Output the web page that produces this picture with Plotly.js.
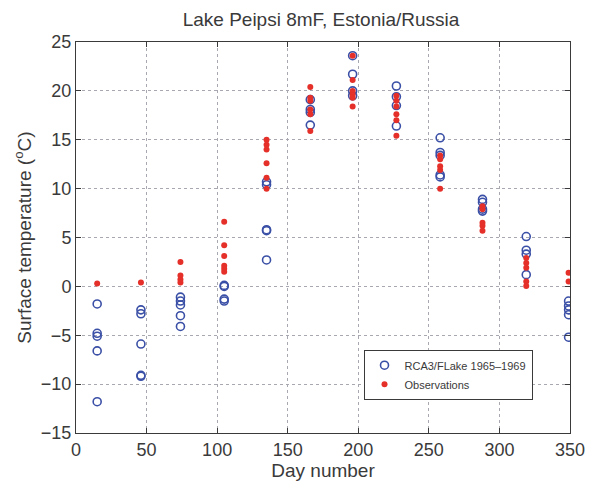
<!DOCTYPE html>
<html>
<head>
<meta charset="utf-8">
<script src="https://cdn.plot.ly/plotly-3.0.1.min.js"></script>
<style>
  html, body { margin: 0; padding: 0; background: #ffffff; }
  #chart { width: 589px; height: 482px; }
</style>
</head>
<body>
<div id="chart"></div>
<script>
// Mid-month day numbers at which the samples are plotted
const days = [15, 46, 74, 105, 135, 166, 196, 227, 258, 288, 319, 349];

// Modelled surface temperature (RCA3/FLake), one list per month (°C)
const modelTemps = [
  [-1.8, -4.8, -5.1, -6.6, -11.8],
  [-2.4, -2.8, -5.9, -9.1, -9.2],
  [-1.1, -1.5, -1.9, -3.0, -4.1],
  [0.1, 0.0, -1.3, -1.5],
  [10.7, 10.4, 5.8, 5.7, 2.7],
  [19.1, 18.1, 17.8, 16.5],
  [23.6, 21.7, 20.0, 19.5],
  [20.5, 19.4, 18.5, 16.4],
  [15.2, 13.7, 13.4, 11.4, 11.2],
  [8.9, 8.6, 7.9, 7.7],
  [5.1, 3.7, 3.3, 1.2],
  [-1.5, -2.0, -2.4, -2.9, -5.2]
];

// Observed surface temperature, one list per month (°C)
const obsTemps = [
  [0.3],
  [0.4],
  [2.5, 1.1, 0.7, 0.4],
  [6.6, 4.2, 3.1, 2.1, 1.8, 1.5],
  [15.0, 14.5, 14.0, 12.6, 11.1, 10.0],
  [20.4, 19.3, 19.0, 18.1, 17.6, 15.9],
  [23.6, 21.1, 20.0, 19.6, 19.3, 18.4],
  [19.5, 19.0, 18.4, 17.6, 17.0, 15.4],
  [13.4, 13.0, 12.3, 11.9, 10.0],
  [8.2, 7.9, 6.5, 6.2, 5.7],
  [2.9, 2.4, 1.9, 0.5, 0.05],
  [1.4, 0.5]
];

const seriesNames = ['RCA3/FLake 1965\u20131969', 'Observations'];
const xTicks = [0, 50, 100, 150, 200, 250, 300, 350];
const yTicks = [-15, -10, -5, 0, 5, 10, 15, 20, 25];
const yTickText = yTicks.map(v => v < 0 ? '\u2212' + Math.abs(v) : String(v));

// Expand the per-month lists into x/y point pairs
function flatten(groups) {
  const xs = [], ys = [];
  groups.forEach((vals, i) => vals.forEach(v => { xs.push(days[i]); ys.push(v); }));
  return { xs, ys };
}
const model = flatten(modelTemps);
const obs = flatten(obsTemps);

const FONT = 'Liberation Sans, Arial, Helvetica, sans-serif';
const INK = '#3a3a3a';

const traces = [
  {
    x: model.xs, y: model.ys, type: 'scatter', mode: 'markers', name: seriesNames[0],
    marker: { symbol: 'circle-open', size: 8, color: '#3a4fa6', line: { width: 1.6, color: '#3a4fa6' } }
  },
  {
    x: obs.xs, y: obs.ys, type: 'scatter', mode: 'markers', name: seriesNames[1],
    marker: { symbol: 'circle', size: 6, color: '#e5302a' }
  }
];

const axisCommon = {
  showline: true, linecolor: INK, linewidth: 1, mirror: 'ticks',
  ticks: 'inside', ticklen: 5, tickcolor: INK,
  showgrid: true, gridcolor: '#a8a8b0', griddash: 'dot', gridwidth: 1,
  zeroline: false,
  tickfont: { family: FONT, size: 18, color: INK }
};

const layout = {
  width: 589, height: 482,
  paper_bgcolor: '#ffffff', plot_bgcolor: '#ffffff',
  margin: { l: 76, r: 19, t: 42, b: 49 },
  showlegend: true,
  title: {
    text: 'Lake Peipsi 8mF, Estonia/Russia',
    font: { family: FONT, size: 19, color: INK },
    x: 0.545, xanchor: 'center', y: 0.96, yanchor: 'middle'
  },
  xaxis: Object.assign({}, axisCommon, {
    range: [0, 350], tickvals: xTicks, ticktext: xTicks.map(String),
    title: { text: 'Day number', font: { family: FONT, size: 19, color: INK }, standoff: 0 }
  }),
  yaxis: Object.assign({}, axisCommon, {
    range: [-15, 25], tickvals: yTicks, ticktext: yTickText,
    title: { text: 'Surface temperature (<sup>o</sup>C)', font: { family: FONT, size: 19, color: INK }, standoff: 4 }
  }),
  legend: {
    x: 0.582, y: 0.213, xanchor: 'left', yanchor: 'top',
    bgcolor: '#ffffff', bordercolor: INK, borderwidth: 1,
    font: { family: FONT, size: 11, color: INK },
    tracegroupgap: 0, itemwidth: 30
  }
};

Plotly.newPlot('chart', traces, layout, { displayModeBar: false, staticPlot: true });
</script>
</body>
</html>
